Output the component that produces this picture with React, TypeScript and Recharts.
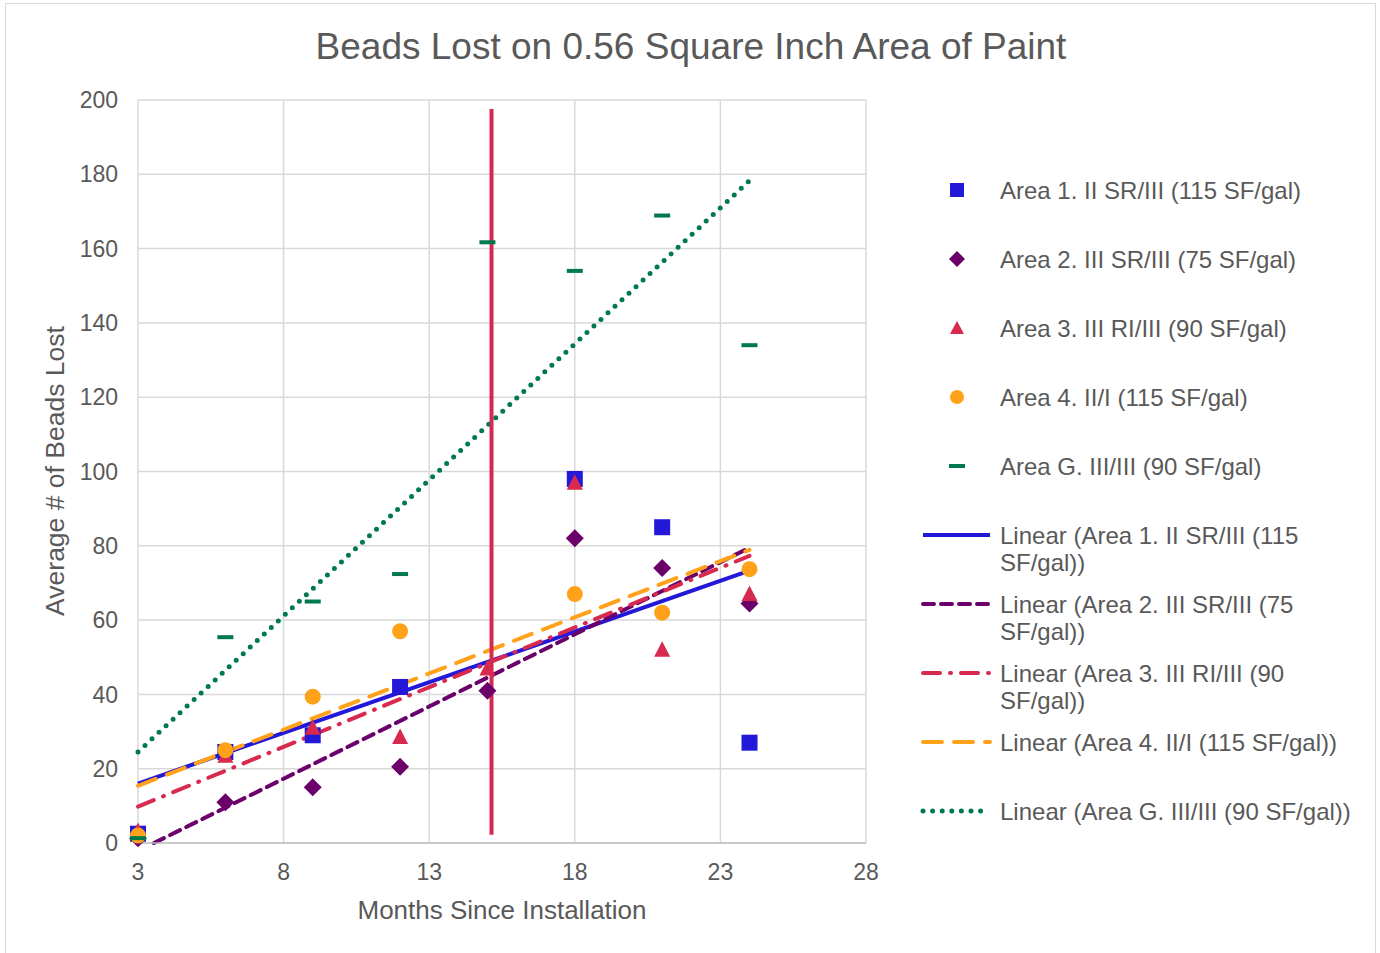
import React from 'react';
import { ComposedChart, Scatter, Line, XAxis, YAxis, CartesianGrid } from 'recharts';

const months = [3, 6, 9, 12, 15, 18, 21, 24];

// observed values (null = no point at that month)
const area1 = [2.5, 24.5, 29, 42, null, 98, 85, 27];
const area2 = [1.3, 11, 15, 20.5, 41, 82, 74, 64.5];
const area3 = [3.2, 23.5, 31, 28.5, 47, 97, 52, 67];
const area4 = [2, 25, 39.4, 57, null, 67, 62, 73.7];
const areaG = [1.3, 55.4, 65, 72.4, 161.7, 154, 168.9, 134];

// trendline ends
const trendMonths = [3, 24];
const trend2Months = [3.55, 24]; // area 2 trend starts where it crosses zero
const trend1 = [16, 73.3];
const trend2 = [0, 79.5];
const trend3 = [9.8, 77.3];
const trend4 = [15.4, 78.9];
const trendG = [24.5, 178.3];

// the vertical marker
const markerMonth = 15.14;
const markerRange = [197.6, 2.2];

const xTicks = [3, 8, 13, 18, 23, 28];
const yTicks = [0, 20, 40, 60, 80, 100, 120, 140, 160, 180, 200];

const labels = [
  'Area 1. II SR/III (115 SF/gal)',
  'Area 2. III SR/III (75 SF/gal)',
  'Area 3. III RI/III (90 SF/gal)',
  'Area 4. II/I (115 SF/gal)',
  'Area G. III/III (90 SF/gal)',
];

const BLUE = '#2318d8';
const PURPLE = '#6b006b';
const RED = '#d8294e';
const ORANGE = '#ffa21a';
const GREEN = '#00794f';
const TEXT = '#595959';

const pts = (vals: (number | null)[]) =>
  months.map((m, i) => ({ x: m, y: vals[i] })).filter((p) => p.y !== null);
const seg = (xs: number[], vals: number[]) => xs.map((m, i) => ({ x: m, y: vals[i] }));

const Square = ({ cx, cy }: any) => <rect x={cx - 8} y={cy - 8} width={16} height={16} fill={BLUE} />;
const Diamond = ({ cx, cy }: any) => (
  <polygon points={`${cx},${cy - 9} ${cx + 9},${cy} ${cx},${cy + 9} ${cx - 9},${cy}`} fill={PURPLE} />
);
const Triangle = ({ cx, cy }: any) => (
  <polygon points={`${cx},${cy - 8.5} ${cx + 8},${cy + 7} ${cx - 8},${cy + 7}`} fill={RED} />
);
const Dot = ({ cx, cy }: any) => <circle cx={cx} cy={cy} r={8} fill={ORANGE} />;
const Dash = ({ cx, cy }: any) => <rect x={cx - 8} y={cy - 2} width={16} height={4} fill={GREEN} />;

const trendStyles = [
  { data: seg(trendMonths, trend1), stroke: BLUE, dash: undefined, cap: 'butt', w: 4 },
  { data: seg(trend2Months, trend2), stroke: PURPLE, dash: '11 7', cap: 'round', w: 4 },
  { data: seg(trendMonths, trend3), stroke: RED, dash: '17 10 1 10', cap: 'round', w: 4 },
  { data: seg(trendMonths, trend4), stroke: ORANGE, dash: '19 12', cap: 'round', w: 4 },
  { data: seg(trendMonths, trendG), stroke: GREEN, dash: '0 9.6', cap: 'round', w: 5 },
];

function LegendMark({ i }: { i: number }) {
  const c = 37;
  const marks = [
    <rect key="a" x={c - 7} y={10} width={14} height={14} fill={BLUE} />,
    <polygon key="b" points={`${c},9 ${c + 8},17 ${c},25 ${c - 8},17`} fill={PURPLE} />,
    <polygon key="c" points={`${c},10 ${c + 7},23 ${c - 7},23`} fill={RED} />,
    <circle key="d" cx={c} cy={17} r={7} fill={ORANGE} />,
    <rect key="e" x={c - 8} y={15} width={16} height={4} fill={GREEN} />,
  ];
  return (
    <svg width={72} height={34} style={{ display: 'block' }}>
      {marks[i]}
    </svg>
  );
}

function LegendLine({ i }: { i: number }) {
  const t = trendStyles[i];
  return (
    <svg width={72} height={34} style={{ display: 'block' }}>
      <line
        x1={3}
        y1={17}
        x2={70}
        y2={17}
        stroke={t.stroke}
        strokeWidth={t.w}
        strokeDasharray={t.dash}
        strokeLinecap={t.cap as any}
      />
    </svg>
  );
}

export default function App() {
  const font = '"Liberation Sans", Arial, sans-serif';
  const rows = [
    ...labels.map((l, i) => ({ text: l, node: <LegendMark i={i} /> })),
    ...labels.map((l, i) => ({ text: `Linear (${l})`, node: <LegendLine i={i} /> })),
  ];
  const wraps = ['Linear (Area 1. II SR/III (115', 'Linear (Area 2. III SR/III (75', 'Linear (Area 3. III RI/III (90'];

  return (
    <div style={{ position: 'absolute', left: 0, top: 0, width: 1380, height: 953, background: '#fff', overflow: 'hidden', fontFamily: font }}>
      <div style={{ position: 'absolute', left: 5, top: 3, width: 1369, height: 970, border: '1.5px solid #d9d9d9' }} />
      <div style={{ position: 'absolute', left: 691, top: 46, transform: 'translate(-50%, -50%)', fontSize: 37, lineHeight: '37px', color: TEXT, whiteSpace: 'nowrap' }}>
        Beads Lost on 0.56 Square Inch Area of Paint
      </div>
      <div style={{ position: 'absolute', left: 502, top: 910, transform: 'translate(-50%, -50%)', fontSize: 26, lineHeight: '26px', color: TEXT, whiteSpace: 'nowrap' }}>
        Months Since Installation
      </div>
      <div style={{ position: 'absolute', left: 55, top: 471, transform: 'translate(-50%, -50%) rotate(-90deg)', fontSize: 26.5, lineHeight: '26px', color: TEXT, whiteSpace: 'nowrap' }}>
        Average # of Beads Lost
      </div>

      <div style={{ position: 'absolute', left: 0, top: 0 }}>
        <ComposedChart width={1380} height={953} margin={{ top: 100, right: 514, bottom: 50, left: 78 }}>
          <CartesianGrid stroke="#d9d9d9" strokeWidth={1.5} verticalValues={xTicks} horizontalValues={yTicks} />
          <XAxis
            type="number"
            dataKey="x"
            domain={[3, 28]}
            ticks={xTicks}
            height={60}
            tickLine={false}
            tickSize={0}
            tickMargin={21}
            stroke="#bfbfbf"
            strokeWidth={1.5}
            tick={{ fill: TEXT, fontSize: 23, fontFamily: font }}
          />
          <YAxis
            type="number"
            dataKey="y"
            domain={[0, 200]}
            ticks={yTicks}
            width={60}
            axisLine={false}
            tickLine={false}
            tickSize={0}
            tickMargin={20}
            tick={{ fill: TEXT, fontSize: 23, fontFamily: font }}
          />
          <Scatter data={pts(area1)} shape={Square} isAnimationActive={false} />
          <Scatter data={pts(area2)} shape={Diamond} isAnimationActive={false} />
          <Scatter data={pts(area3)} shape={Triangle} isAnimationActive={false} />
          <Scatter data={pts(area4)} shape={Dot} isAnimationActive={false} />
          <Scatter data={pts(areaG)} shape={Dash} isAnimationActive={false} />
          {trendStyles.map((t, i) => (
            <Line
              key={i}
              data={t.data}
              dataKey="y"
              type="linear"
              stroke={t.stroke}
              strokeWidth={t.w}
              strokeDasharray={t.dash}
              strokeLinecap={t.cap as any}
              dot={false}
              activeDot={false}
              isAnimationActive={false}
            />
          ))}
          <Line
            data={markerRange.map((v) => ({ x: markerMonth, y: v }))}
            dataKey="y"
            type="linear"
            stroke="#d42a50"
            strokeWidth={4}
            dot={false}
            activeDot={false}
            isAnimationActive={false}
          />
        </ComposedChart>
      </div>

      <div style={{ position: 'absolute', left: 920, top: 173 }}>
        {rows.map((r, i) => {
          const w = i >= 5 && i < 8;
          return (
            <div key={i} style={{ display: 'flex', alignItems: 'flex-start', height: 69 }}>
              {r.node}
              <div style={{ marginLeft: 8, fontSize: 24, lineHeight: '27px', color: TEXT, paddingTop: 3.5, whiteSpace: 'nowrap' }}>
                {w ? (
                  <>
                    {wraps[i - 5]}
                    <br />
                    SF/gal))
                  </>
                ) : (
                  r.text
                )}
              </div>
            </div>
          );
        })}
      </div>
    </div>
  );
}
